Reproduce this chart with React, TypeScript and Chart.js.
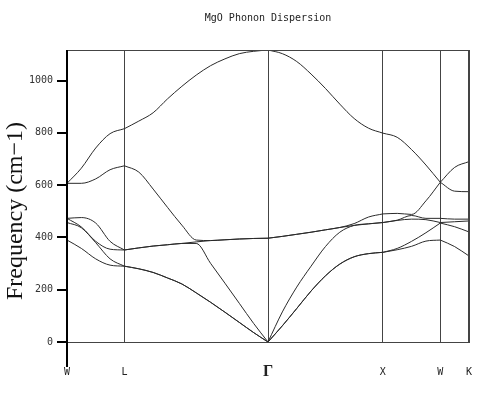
import React, { useEffect, useRef } from "react";
import { Chart, registerables } from "chart.js";

Chart.register(...registerables);

const titleText = "MgO Phonon Dispersion";
const yTitle = "Frequency (cm\u22121)";

// high-symmetry points along the path (path units)
const kTicks = [0, 2, 7, 11, 13, 14];
const kLabels = ["W", "L", "\u0393", "X", "W", "K"];

// sampled path positions
const kPath = [0, 0.5, 1, 1.5, 2, 2.5, 3, 3.5, 4, 4.5, 5, 5.5, 6, 6.5, 7, 7.5, 8, 8.5, 9, 9.5, 10, 10.5, 11, 11.5, 12, 12.5, 13, 13.5, 14];

// phonon bands (cm-1), sorted low -> high
const band1 = [390, 358, 318, 294, 290, 280, 266, 245, 222, 188, 152, 114, 75, 36, 0, 62, 128, 195, 253, 298, 326, 338, 343, 353, 366, 386, 390, 365, 329];
const band2 = [457, 437, 380, 318, 290, 280, 266, 245, 222, 188, 152, 114, 75, 36, 0, 62, 128, 195, 253, 298, 326, 338, 343, 358, 385, 418, 455, 441, 421];
const band3 = [473, 440, 385, 355, 352, 360, 367, 372, 377, 377, 301, 225, 148, 71, 0, 115, 210, 290, 365, 420, 446, 452, 457, 465, 470, 468, 457, 460, 463];
const band4 = [473, 476, 455, 385, 352, 360, 367, 372, 377, 383, 388, 391, 394, 396, 397, 404, 412, 420, 429, 438, 446, 452, 457, 466, 484, 473, 473, 470, 470];
const band5 = [607, 607, 624, 659, 674, 650, 585, 515, 447, 390, 388, 391, 394, 396, 397, 404, 412, 420, 429, 438, 453, 478, 490, 492, 488, 540, 611, 577, 575];
const band6 = [607, 665, 742, 797, 816, 845, 877, 930, 978, 1021, 1057, 1083, 1103, 1112, 1117, 1103, 1073, 1025, 970, 910, 855, 818, 799, 783, 736, 677, 611, 668, 690];

const bands = [band1, band2, band3, band4, band5, band6];
const yTicks = [0, 200, 400, 600, 800, 1000];
const yMax = 1117;

const framePlugin = {
  id: "frame",
  afterDraw(chart: any) {
    const { ctx, chartArea: a } = chart;
    const xs = chart.scales.x;
    ctx.save();
    ctx.strokeStyle = "#444";
    ctx.lineWidth = 1;
    ctx.beginPath();
    ctx.moveTo(a.left, a.top + 0.5);
    ctx.lineTo(a.right, a.top + 0.5);
    ctx.moveTo(a.right - 0.5, a.top);
    ctx.lineTo(a.right - 0.5, a.bottom);
    ctx.stroke();
    ctx.strokeStyle = "#000";
    ctx.lineWidth = 2;
    ctx.beginPath();
    ctx.moveTo(a.left, a.top);
    ctx.lineTo(a.left, a.bottom + 25);
    ctx.stroke();

    ctx.fillStyle = "#222";
    ctx.textAlign = "center";
    ctx.textBaseline = "middle";
    ctx.font = '10px "DejaVu Sans Mono"';
    ctx.fillText(titleText, (a.left + a.right) / 2, 18);

    kLabels.forEach((lab, i) => {
      const px = xs.getPixelForValue(kTicks[i]);
      ctx.font = lab === "\u0393" ? 'bold 16px "Liberation Serif"' : '10px "DejaVu Sans Mono"';
      ctx.fillText(lab, px, a.bottom + 30);
    });

    ctx.translate(16, 211);
    ctx.rotate(-Math.PI / 2);
    ctx.font = '24px "Liberation Serif"';
    ctx.fillStyle = "#111";
    ctx.fillText(yTitle, 0, 0);
    ctx.restore();
  },
};

function buildDatasets() {
  const out: any[] = [];
  bands.forEach((b) => {
    for (let s = 0; s < kTicks.length - 1; s++) {
      const lo = kTicks[s];
      const hi = kTicks[s + 1];
      const pts = kPath
        .map((x, i) => ({ x, y: b[i] }))
        .filter((p) => p.x >= lo && p.x <= hi);
      out.push({
        data: pts,
        borderColor: "#2a2a2a",
        borderWidth: 1,
        pointRadius: 0,
        cubicInterpolationMode: "monotone",
        fill: false,
      });
    }
  });
  return out;
}

export default function App() {
  const ref = useRef<HTMLCanvasElement>(null);
  useEffect(() => {
    if (!ref.current) return;
    const chart = new Chart(ref.current, {
      type: "line",
      data: { datasets: buildDatasets() },
      options: {
        responsive: false,
        maintainAspectRatio: false,
        devicePixelRatio: 1,
        animation: false,
        layout: { padding: { top: 50, right: 31, left: 0, bottom: 0 } },
        plugins: { legend: { display: false }, tooltip: { enabled: false }, title: { display: false } },
        scales: {
          x: {
            type: "linear",
            min: 0,
            max: 14,
            afterBuildTicks: (s: any) => {
              s.ticks = kTicks.map((v) => ({ value: v }));
            },
            afterFit: (s: any) => {
              s.height = 55;
            },
            ticks: { display: false },
            grid: { color: "#444", lineWidth: 1, drawTicks: false, drawOnChartArea: true },
            border: { display: true, color: "#444", width: 1 },
          },
          y: {
            type: "linear",
            min: 0,
            max: yMax,
            afterBuildTicks: (s: any) => {
              s.ticks = yTicks.map((v) => ({ value: v }));
            },
            afterFit: (s: any) => {
              s.width = 67;
            },
            ticks: {
              color: "#333",
              font: { family: "DejaVu Sans Mono", size: 10 },
              padding: 4,
              callback: (v: any) => String(v),
            },
            grid: { drawOnChartArea: false, drawTicks: true, tickLength: 10, color: "#000", lineWidth: 2 },
            border: { display: false },
          },
        },
      },
      plugins: [framePlugin],
    });
    return () => chart.destroy();
  }, []);
  return (
    <div style={{ position: "fixed", left: 0, top: 0, width: 500, height: 397, background: "#fff" }}>
      <canvas ref={ref} width={500} height={397} style={{ display: "block", width: 500, height: 397 }} />
    </div>
  );
}
